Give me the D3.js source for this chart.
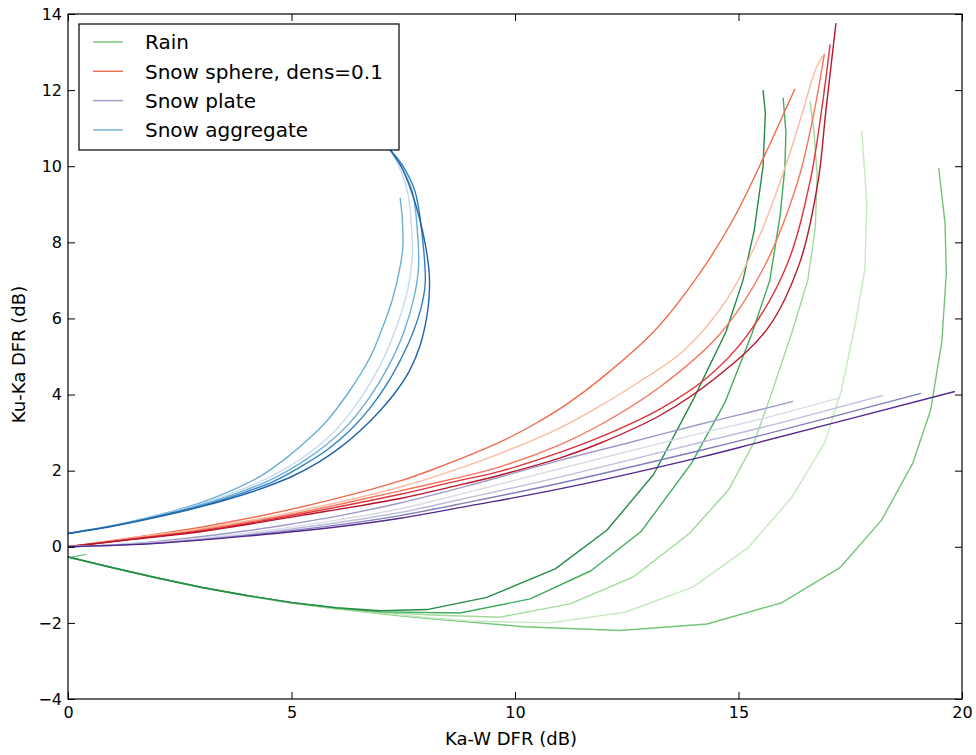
<!DOCTYPE html>
<html>
<head>
<meta charset="utf-8">
<script src="https://cdn.jsdelivr.net/npm/d3@7/dist/d3.min.js"></script>
<style>
  html, body { margin: 0; padding: 0; background: #fff; }
  svg { display: block; font-family: "DejaVu Sans", sans-serif; }
</style>
</head>
<body>
<svg id="chart" width="976" height="755"></svg>
<script>
// Dual-frequency ratio curves: Ku-Ka DFR against Ka-W DFR, [x, y] pairs in dB.

// Rain, five size-distribution shapes
const rain1 = [[0.4,-0.2],[0.05,-0.28],[1,-0.55],[2,-0.82],[3,-1.07],[4,-1.29],[5,-1.48],[6,-1.63],[7,-1.76],[8,-1.88],[9,-1.98],[10.2,-2.1],[12.35,-2.2],[14.3,-2.03],[15.97,-1.47],[17.27,-0.55],[18.2,0.7],[18.9,2.2],[19.3,3.6],[19.55,5.4],[19.65,7.2],[19.62,8.5],[19.48,9.95]];
const rain2 = [[0,-0.27],[1,-0.55],[2,-0.82],[3,-1.07],[4,-1.29],[5,-1.48],[6,-1.63],[7,-1.75],[8,-1.86],[9,-1.95],[10.78,-2.0],[12.46,-1.72],[13.98,-1.06],[15.21,-0.03],[16.2,1.31],[16.93,2.74],[17.3,4.1],[17.62,5.9],[17.83,7.3],[17.87,9.0],[17.76,10.93]];
const rain3 = [[0,-0.27],[1,-0.55],[2,-0.82],[3,-1.07],[4,-1.28],[5,-1.47],[6,-1.62],[7,-1.73],[8.3,-1.8],[9.66,-1.85],[11.23,-1.5],[12.64,-0.8],[13.9,0.35],[14.78,1.5],[15.35,2.75],[15.7,3.9],[16.2,5.65],[16.55,7.0],[16.72,8.4],[16.76,9.8],[16.68,11.0],[16.6,11.7]];
const rain4 = [[0,-0.27],[1,-0.55],[2,-0.82],[3,-1.07],[4,-1.28],[5,-1.47],[6,-1.61],[7,-1.71],[8.77,-1.74],[10.34,-1.37],[11.7,-0.63],[12.82,0.4],[13.95,2.2],[14.7,3.8],[15.3,5.6],[15.7,7.0],[15.93,8.7],[16.04,10.0],[16.06,10.9],[16.0,11.8]];
const rain5 = [[0,-0.27],[1,-0.55],[2,-0.82],[3,-1.07],[4,-1.28],[5,-1.46],[6,-1.6],[7,-1.68],[8.03,-1.65],[9.37,-1.33],[10.9,-0.58],[12.06,0.44],[13.1,1.9],[14.0,3.9],[14.72,5.65],[15.1,7.0],[15.35,8.3],[15.55,10.0],[15.6,11.4],[15.55,12.0]];

// Snow spheres, density 0.1
const sphere1 = [[0,0],[1.5,0.25],[3,0.52],[5.2,1.04],[7.43,1.73],[8.2,2.05],[9.66,2.75],[10.4,3.2],[11.16,3.75],[11.9,4.4],[13.1,5.65],[14.14,7.2],[14.88,8.6],[15.55,10.2],[16.26,12.03]];
const sphere2 = [[0,0],[1.5,0.24],[3,0.48],[5.2,0.95],[7.43,1.57],[8.6,2.0],[9.66,2.45],[11,3.12],[11.9,3.7],[12.8,4.35],[13.77,5.15],[14.74,6.5],[15.48,8.2],[16.08,10.1],[16.42,11.37],[16.73,12.56],[16.88,12.9]];
const sphere3 = [[0,0],[1.5,0.22],[3,0.45],[5.2,0.9],[7.43,1.47],[8.6,1.78],[9.66,2.1],[11,2.68],[11.9,3.2],[13.24,4.2],[14.59,5.6],[15.55,7.3],[16.3,9.5],[16.67,11.3],[16.92,12.95]];
const sphere4 = [[0,0],[1.5,0.21],[3,0.42],[5.2,0.86],[7.43,1.38],[8.6,1.7],[9.66,1.98],[11,2.48],[11.9,2.88],[13.24,3.62],[14.3,4.45],[15.19,5.55],[16.08,7.4],[16.6,9.6],[16.85,11.4],[17.05,13.2]];
const sphere5 = [[0,0],[1.5,0.2],[3,0.4],[5.2,0.82],[7.43,1.27],[8.6,1.58],[9.66,1.88],[11,2.33],[11.9,2.72],[13.24,3.45],[14.5,4.45],[15.66,5.75],[16.38,7.5],[16.78,9.6],[16.95,11.4],[17.18,13.76]];

// Snow plates
const plate1 = [[0,0],[1,0.05],[2,0.14],[3,0.27],[4,0.42],[5,0.6],[6,0.8],[7.43,1.15],[9,1.62],[11,2.27],[12.5,2.72],[14.14,3.22],[15.48,3.6],[16.22,3.82]];
const plate2 = [[0,0],[2,0.12],[4,0.36],[6,0.7],[7.43,1.0],[9,1.45],[11,2.05],[14.14,2.98],[15.48,3.35],[17.27,3.92]];
const plate3 = [[0,0],[2,0.11],[4,0.32],[6,0.63],[7.43,0.9],[9,1.3],[11,1.83],[14.14,2.74],[15.48,3.12],[18.23,3.98]];
const plate4 = [[0,0],[2,0.1],[4,0.3],[6,0.57],[7.43,0.82],[9,1.18],[11,1.67],[14.14,2.53],[15.48,2.92],[19.08,4.03]];
const plate5 = [[0,0],[2,0.09],[4,0.28],[6,0.52],[7.43,0.75],[9,1.08],[11,1.52],[14.14,2.35],[15.48,2.75],[19.84,4.08]];

// Snow aggregates
const aggr1 = [[0,0.35],[1,0.56],[2,0.83],[3,1.17],[3.7,1.5],[4.3,1.85],[4.9,2.35],[5.4,2.85],[5.8,3.32],[6.3,4.1],[6.76,4.98],[7.05,5.8],[7.27,6.55],[7.42,7.3],[7.49,7.86],[7.48,8.6],[7.43,9.17]];
const aggr2 = [[0,0.35],[1,0.56],[2,0.82],[3,1.14],[4,1.56],[4.6,1.88],[5.2,2.3],[5.8,2.85],[6.3,3.5],[6.76,4.3],[7.1,5.05],[7.4,5.95],[7.6,6.75],[7.7,7.6],[7.7,8.1],[7.6,9.3],[7.42,9.95],[7.2,10.45],[6.9,11.0]];
const aggr3 = [[0,0.35],[1,0.55],[2,0.81],[3,1.11],[4,1.5],[4.6,1.8],[5.2,2.2],[5.8,2.7],[6.3,3.25],[6.76,3.95],[7.15,4.7],[7.5,5.6],[7.75,6.6],[7.84,7.3],[7.83,8.05],[7.7,9.35],[7.45,10.0],[7.2,10.45],[6.9,11.0]];
const aggr4 = [[0,0.35],[1,0.55],[2,0.8],[3,1.08],[4,1.45],[4.6,1.72],[5.2,2.1],[5.8,2.55],[6.3,3.05],[6.76,3.65],[7.2,4.4],[7.6,5.3],[7.88,6.2],[7.99,6.9],[7.94,8.0],[7.76,9.35],[7.47,10.05],[7.2,10.45],[6.9,11.0]];
const aggr5 = [[0,0.35],[1,0.54],[2,0.78],[3,1.06],[4,1.4],[4.6,1.65],[5.03,1.86],[5.6,2.22],[6.1,2.62],[6.53,3.04],[7.0,3.6],[7.35,4.1],[7.65,4.65],[7.88,5.3],[8.02,6.0],[8.08,6.6],[8.08,7.2],[8.0,7.9],[7.87,8.6],[7.68,9.35],[7.45,10.0],[7.2,10.45],[6.9,11.0]];

const seriesNames = ["Rain", "Snow sphere, dens=0.1", "Snow plate", "Snow aggregate"];
const seriesCurves = [
  [rain1, rain2, rain3, rain4, rain5],
  [sphere1, sphere2, sphere3, sphere4, sphere5],
  [plate1, plate2, plate3, plate4, plate5],
  [aggr1, aggr2, aggr3, aggr4, aggr5]
];
const seriesColors = [
  ["#74c476", "#c7e9c0", "#a1d99b", "#41ab5d", "#238b45"],
  ["#f26a4d", "#fcbba1", "#f5775d", "#e0303a", "#b8142b"],
  ["#9e9ac8", "#dadaeb", "#bcbddc", "#807dba", "#54278f"],
  ["#6baed6", "#c6dbef", "#6baed6", "#2f7fc0", "#1f63a8"]
];
// Rain is sampled coarsely; the snow curves are drawn smoothly.
const seriesSmooth = [false, true, true, true];

const xTicks = [0, 5, 10, 15, 20];
const yTicks = [-4, -2, 0, 2, 4, 6, 8, 10, 12, 14];

const margin = { left: 68, right: 14, top: 14, bottom: 56 };
const W = 976, H = 755;
const svg = d3.select("#chart");

const x = d3.scaleLinear().domain([0, 20]).range([margin.left, W - margin.right]);
const y = d3.scaleLinear().domain([-4, 14]).range([H - margin.bottom, margin.top]);

const clipId = "plot-clip";
svg.append("defs").append("clipPath").attr("id", clipId)
  .append("rect")
  .attr("x", x(0)).attr("y", y(14))
  .attr("width", x(20) - x(0)).attr("height", y(-4) - y(14));

const plot = svg.append("g").attr("clip-path", `url(#${clipId})`);

seriesCurves.forEach((curves, si) => {
  const line = d3.line()
    .x(d => x(d[0])).y(d => y(d[1]))
    .curve(seriesSmooth[si] ? d3.curveCatmullRom.alpha(0.5) : d3.curveLinear);
  curves.forEach((pts, ci) => {
    plot.append("path")
      .attr("d", line(pts))
      .attr("fill", "none")
      .attr("stroke", seriesColors[si][ci])
      .attr("stroke-width", 1.4)
      .attr("stroke-linejoin", "round");
  });
});

// Axes with inward ticks on all four sides
const tickLen = 7;
function styleAxis(g) {
  g.select(".domain").remove();
  g.selectAll(".tick line").attr("stroke", "#000").attr("stroke-width", 1);
  g.selectAll(".tick text").attr("fill", "#000").attr("font-size", 16)
    .attr("font-family", "DejaVu Sans, sans-serif");
}
svg.append("g").attr("transform", `translate(0,${y(-4)})`)
  .call(d3.axisBottom(x).tickValues(xTicks).tickSizeInner(-tickLen).tickSizeOuter(0).tickPadding(8).tickFormat(d3.format("d")))
  .call(styleAxis);
svg.append("g").attr("transform", `translate(0,${y(14)})`)
  .call(d3.axisTop(x).tickValues(xTicks).tickSizeInner(-tickLen).tickSizeOuter(0).tickFormat(""))
  .call(styleAxis);
svg.append("g").attr("transform", `translate(${x(0)},0)`)
  .call(d3.axisLeft(y).tickValues(yTicks).tickSizeInner(-tickLen).tickSizeOuter(0).tickPadding(6).tickFormat(d3.format("d")))
  .call(styleAxis);
svg.append("g").attr("transform", `translate(${x(20)},0)`)
  .call(d3.axisRight(y).tickValues(yTicks).tickSizeInner(-tickLen).tickSizeOuter(0).tickFormat(""))
  .call(styleAxis);

// Frame
svg.append("rect")
  .attr("x", x(0)).attr("y", y(14))
  .attr("width", x(20) - x(0)).attr("height", y(-4) - y(14))
  .attr("fill", "none").attr("stroke", "#000").attr("stroke-width", 1.2);

// Axis titles
svg.append("text")
  .attr("x", (x(0) + x(20)) / 2 - 4).attr("y", 745)
  .attr("text-anchor", "middle").attr("font-size", 18).attr("fill", "#000")
  .text("Ka-W DFR (dB)");
svg.append("text")
  .attr("transform", `translate(25,${(y(-4) + y(14)) / 2 - 2}) rotate(-90)`)
  .attr("text-anchor", "middle").attr("font-size", 18).attr("fill", "#000")
  .text("Ku-Ka DFR (dB)");

// Legend
const legend = svg.append("g").attr("transform", "translate(79,24)");
legend.append("rect")
  .attr("width", 320).attr("height", 126)
  .attr("fill", "#fff").attr("stroke", "#000").attr("stroke-width", 1.2);
seriesNames.forEach((name, i) => {
  const cy = 18 + i * 29.3;
  legend.append("line")
    .attr("x1", 14).attr("x2", 44).attr("y1", cy).attr("y2", cy)
    .attr("stroke", seriesColors[i][0]).attr("stroke-width", 1.4);
  legend.append("text")
    .attr("x", 66).attr("y", cy).attr("dy", "0.36em")
    .attr("font-size", 20).attr("fill", "#000")
    .text(name);
});
</script>
</body>
</html>
